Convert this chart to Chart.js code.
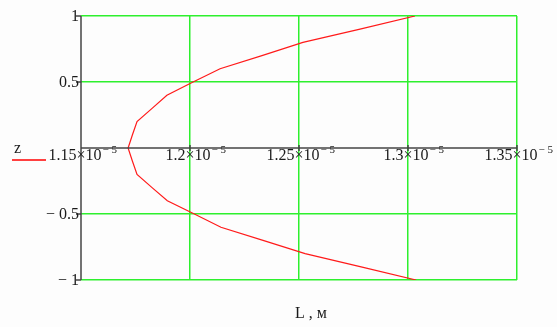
<!DOCTYPE html>
<html>
<head>
<meta charset="utf-8">
<script src="https://cdn.jsdelivr.net/npm/chart.js@4"></script>
<style>
  html,body{margin:0;padding:0;background:#fdfdfd;}
  #wrap{position:relative;width:557px;height:327px;}
</style>
</head>
<body>
<div id="wrap"><canvas id="c" width="557" height="327"></canvas></div>
<script>
// z - высота, L - значения (в единицах 1e-5 м)
const zValues = [-1, -0.9, -0.8, -0.7, -0.6, -0.5, -0.4, -0.3, -0.2, -0.1, 0, 0.1, 0.2, 0.3, 0.4, 0.5, 0.6, 0.7, 0.8, 0.9, 1];
const lValues = [1.3037, 1.2785, 1.2528, 1.2335, 1.2142, 1.2020, 1.1896, 1.1826, 1.1757, 1.1736, 1.1716,
                 1.1736, 1.1757, 1.1826, 1.1894, 1.2014, 1.2138, 1.2330, 1.2518, 1.2780, 1.3032];
const xTicks = [1.15e-5, 1.2e-5, 1.25e-5, 1.3e-5, 1.35e-5];
const xTickMantissa = ['1.15', '1.2', '1.25', '1.3', '1.35'];
const yTicks = [-1, -0.5, 0, 0.5, 1];
const yTickLabels = ['\u2212 1', '\u2212 0.5', '', '0.5', '1'];
const seriesName = 'z';
const xTitle = 'L , м';

const GREEN = '#2ef02e';
const AXIS = '#454545';
const SERIF = '"Liberation Serif","DejaVu Serif",serif';

const points = zValues.map((z, i) => ({ x: lValues[i] * 1e-5, y: z }));

const mathcadAxes = {
  id: 'mathcadAxes',
  afterDatasetsDraw(chart){
    const ctx = chart.ctx;
    const xs = chart.scales.x, ys = chart.scales.y, area = chart.chartArea;
    const y0 = ys.getPixelForValue(0);
    ctx.save();
    ctx.strokeStyle = AXIS;
    ctx.lineWidth = 1.5;
    // ось X на уровне z = 0
    ctx.beginPath();
    ctx.moveTo(area.left, y0); ctx.lineTo(area.right, y0);
    // ось Y слева
    ctx.moveTo(area.left, area.top); ctx.lineTo(area.left, area.bottom);
    xTicks.forEach(v => {
      const px = xs.getPixelForValue(v);
      ctx.moveTo(px, y0 - 3); ctx.lineTo(px, y0 + 3);
    });
    yTicks.forEach(v => {
      if (v === 0) return;
      const py = ys.getPixelForValue(v);
      ctx.moveTo(area.left - 5, py); ctx.lineTo(area.left, py);
    });
    ctx.stroke();

    ctx.fillStyle = '#1a1a1a';
    // подписи оси Y
    ctx.font = '16px ' + SERIF;
    ctx.textAlign = 'right';
    ctx.textBaseline = 'middle';
    yTicks.forEach((v, i) => {
      if (!yTickLabels[i]) return;
      ctx.fillText(yTickLabels[i], area.left - 2, ys.getPixelForValue(v) + 1);
    });

    // подписи оси X: мантисса × 10^−5
    ctx.textBaseline = 'alphabetic';
    xTicks.forEach((v, i) => {
      const px = xs.getPixelForValue(v);
      const base = y0 + 12;
      ctx.font = '16px ' + SERIF;
      const tw = ctx.measureText('\u00d7').width;
      ctx.textAlign = 'right';
      ctx.fillText(xTickMantissa[i], px - tw / 2, base);
      ctx.textAlign = 'center';
      ctx.fillText('\u00d7', px, base);
      ctx.textAlign = 'left';
      ctx.fillText('10', px + tw / 2, base);
      const w10 = ctx.measureText('10').width;
      ctx.font = '11px ' + SERIF;
      ctx.fillText('\u2212 5', px + tw / 2 + w10 + 1, base - 7);
    });

    // легенда слева
    ctx.font = '16px ' + SERIF;
    ctx.textAlign = 'left';
    ctx.fillText(seriesName, 14, 153);
    ctx.strokeStyle = '#ff0000';
    ctx.lineWidth = 1.5;
    ctx.beginPath(); ctx.moveTo(12, 160); ctx.lineTo(46, 160); ctx.stroke();

    // заголовок оси X
    ctx.font = '16px ' + SERIF;
    ctx.textAlign = 'center';
    ctx.fillText(xTitle, 311, 318);
    ctx.restore();
  }
};

new Chart(document.getElementById('c'), {
  type: 'scatter',
  data: {
    datasets: [{
      label: seriesName,
      data: points,
      showLine: true,
      borderColor: '#ff1a1a',
      borderWidth: 1.2,
      pointRadius: 0,
      tension: 0
    }]
  },
  options: {
    responsive: false,
    animation: false,
    layout: { padding: { left: 81, right: 40, top: 16, bottom: 47 } },
    plugins: { legend: { display: false }, tooltip: { enabled: false } },
    scales: {
      x: {
        type: 'linear',
        min: xTicks[0], max: xTicks[xTicks.length - 1],
        afterBuildTicks: s => { s.ticks = xTicks.map(v => ({ value: v })); },
        ticks: { display: false },
        grid: { color: (c) => c.index === 0 ? 'transparent' : GREEN, lineWidth: 1.5, drawTicks: false },
        border: { display: false }
      },
      y: {
        type: 'linear',
        min: -1, max: 1,
        afterBuildTicks: s => { s.ticks = yTicks.map(v => ({ value: v })); },
        ticks: { display: false },
        grid: { color: (c) => (c.tick && c.tick.value === 0) ? 'transparent' : GREEN, lineWidth: 1.5, drawTicks: false },
        border: { display: false }
      }
    }
  },
  plugins: [mathcadAxes]
});
</script>
</body>
</html>
